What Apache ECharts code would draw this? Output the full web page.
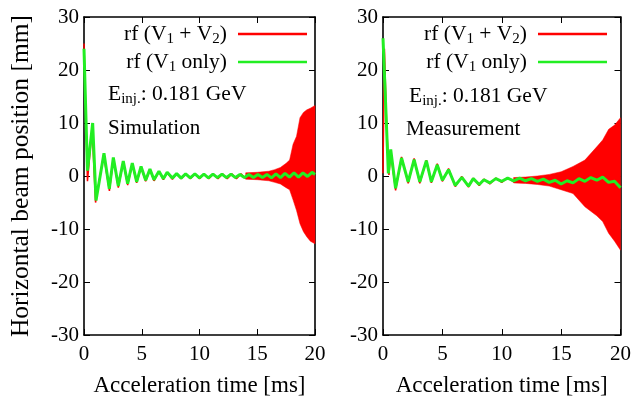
<!DOCTYPE html>
<html><head><meta charset="utf-8">
<script src="https://cdn.jsdelivr.net/npm/echarts@6/dist/echarts.min.js"></script>
<style>html,body{margin:0;padding:0;background:#fff}#c{width:634px;height:404px}</style>
</head><body><div id="c"></div>
<script>
// ---- tick values ----
const xTicks = [0, 5, 10, 15, 20];
const yTicks = [-30, -20, -10, 0, 10, 20, 30];
const panelTitles = ['Simulation', 'Measurement'];
const seriesNames = ['rf (V1 + V2)', 'rf (V1 only)'];

// ---- Simulation panel ----
// green: rf (V1 only), peaks/troughs
const simGreenT = [0, 0.3, 0.75, 1.04, 1.73, 2.19, 2.54, 2.97, 3.4, 3.78, 4.18, 4.56, 4.94, 5.34, 5.71, 6.06, 6.49, 6.87, 7.2, 7.65, 8.02, 8.41, 8.8, 9.2, 9.6, 10.0, 10.38, 10.77, 11.16, 11.55, 11.94, 12.33, 12.72, 13.11, 13.5, 13.89, 14.28, 14.67, 15.06, 15.45, 15.84, 16.23, 16.62, 17.01, 17.4, 17.79, 18.18, 18.57, 18.96, 19.35, 19.74, 20];
const simGreenV = [24, 1.0, 10, -4.6, 4.3, -2.4, 3.5, -1.9, 2.8, -1.45, 2.45, -1.1, 1.8, -0.8, 1.3, -0.7, 0.9, -0.5, 0.7, -0.4, 0.45, -0.4, 0.4, -0.35, 0.4, -0.35, 0.35, -0.35, 0.35, -0.3, 0.35, -0.3, 0.35, -0.3, 0.3, -0.3, 0.3, -0.3, 0.3, -0.3, 0.3, -0.35, 0.4, -0.3, 0.5, -0.2, 0.6, -0.2, 0.6, -0.1, 0.7, 0.3];
// red: rf (V1 + V2), early oscillation
const simRedT = [0, 0.3, 0.7, 1.0, 1.7, 2.2, 2.55, 2.97, 3.4, 3.78, 4.18, 4.56, 4.94, 5.34, 5.71, 6.06, 6.49, 6.87, 7.2, 7.65, 8.02, 8.41, 8.8, 9.2, 9.6, 10.0, 10.4, 10.8, 11.2, 11.6, 12.0, 12.4, 12.8, 13.2, 13.6, 14.0];
const simRedV = [25, -1.0, 9, -5.0, 4.0, -2.8, 3.3, -2.2, 2.6, -1.7, 2.2, -1.3, 1.6, -1.0, 1.2, -0.9, 0.8, -0.7, 0.6, -0.6, 0.4, -0.5, 0.4, -0.5, 0.4, -0.5, 0.4, -0.5, 0.4, -0.5, 0.4, -0.5, 0.4, -0.5, 0.4, -0.5];
// red envelope (dense oscillation near the end)
const simBandT  = [14, 15, 16, 16.5, 17, 17.5, 17.8, 18.1, 18.4, 18.7, 19.0, 19.3, 19.6, 20];
const simBandHi = [0.6, 0.7, 0.9, 1.2, 1.6, 2.4, 3.0, 6.0, 7.5, 11, 12, 12.5, 12.8, 13.3];
const simBandLo = [-0.6, -0.7, -0.9, -1.2, -1.5, -2.2, -2.6, -4.5, -6.5, -9, -10.5, -11.5, -12.3, -12.8];

// ---- Measurement panel ----
const meaGreenT = [0, 0.25, 0.45, 0.65, 1.06, 1.56, 2.12, 2.62, 3.1, 3.65, 4.07, 4.57, 5.0, 5.52, 6.08, 6.64, 7.2, 7.6, 8.1, 8.5, 9.0, 9.5, 10, 10.5, 11, 11.5, 12, 12.5, 13, 13.5, 14, 14.5, 15, 15.5, 16, 16.5, 17, 17.5, 18, 18.5, 19, 19.5, 20];
const meaGreenV = [26, 12, 0.5, 5, -2.3, 3.4, -1.1, 3.1, -1.1, 2.9, -1.1, 2.1, -0.8, 1.2, -1.8, -0.25, -1.9, -0.5, -1.6, -0.7, -1.3, -0.5, -1.0, -0.4, -0.9, -0.4, -0.9, -0.5, -1.0, -0.6, -1.2, -0.8, -1.5, -0.9, -1.3, -0.5, -1.0, -0.3, -0.8, -0.2, -1.2, -1.0, -2.2];
const meaRedT = [0, 0.12, 0.3, 0.5, 0.65, 1.06, 1.56, 2.12, 2.62, 3.1, 3.65, 4.07, 4.57, 5.0, 5.52, 6.08, 6.64, 7.2, 7.6, 8.1, 8.5, 9.0, 9.5, 10, 10.5, 11, 11.5, 12];
const meaRedV = [0.5, 24, 10, 0.2, 4.5, -2.7, 3.6, -1.4, 3.3, -1.4, 3.0, -1.3, 2.3, -1.0, 1.4, -2.0, -0.1, -2.1, -0.4, -1.8, -0.6, -1.5, -0.4, -1.2, -0.3, -1.1, -0.3, -1.1];
const meaBandT  = [11, 12, 13, 14, 15, 16, 17, 18, 18.5, 19, 19.5, 20];
const meaBandHi = [-0.3, -0.2, 0, 0.3, 0.8, 1.8, 3.0, 5.5, 6.8, 8.8, 9.6, 11];
const meaBandLo = [-1.3, -1.4, -1.6, -1.9, -2.6, -3.3, -5.8, -7.5, -8.6, -10.8, -12.3, -14];

const RED = '#ff0000', GREEN = '#22ee22';
const FONT = '"Liberation Serif", "Times New Roman", Times, serif';
const pairs = (t, v) => t.map((x, i) => [x, v[i]]);

const grids = [
  {left: 84, right: 319, top: 17, bottom: 69},
  {left: 383, right: 12, top: 17, bottom: 69}
];
const xAxes = [], yAxes = [];
grids.forEach((g, i) => {
  const common = {type: 'value', gridIndex: i, splitLine: {show: false},
    axisLine: {show: true, onZero: false, lineStyle: {color: '#000', width: 1.6}},
    axisTick: {show: true, inside: true, length: 6, lineStyle: {color: '#000', width: 1}}};
  xAxes.push(Object.assign({}, common, {min: xTicks[0], max: xTicks[xTicks.length - 1], interval: 5, position: 'bottom',
    axisLabel: {show: true, margin: 9, fontFamily: FONT, fontSize: 21, color: '#000'},
    name: 'Acceleration time [ms]', nameLocation: 'middle', nameGap: 39,
    nameTextStyle: {fontFamily: FONT, fontSize: 23, color: '#000'}}));
  xAxes.push(Object.assign({}, common, {min: xTicks[0], max: xTicks[xTicks.length - 1], interval: 5, position: 'top', axisLabel: {show: false}}));
  const y = Object.assign({}, common, {min: yTicks[0], max: yTicks[yTicks.length - 1], interval: 10, position: 'left',
    axisLabel: {show: true, margin: 5, fontFamily: FONT, fontSize: 21, color: '#000'}});
  if (i === 0) Object.assign(y, {name: 'Horizontal beam position [mm]', nameLocation: 'middle', nameGap: 50,
    nameTextStyle: {fontFamily: FONT, fontSize: 25.5, color: '#000'}});
  yAxes.push(y);
  yAxes.push(Object.assign({}, common, {min: yTicks[0], max: yTicks[yTicks.length - 1], interval: 10, position: 'right', axisLabel: {show: false}}));
});

const panels = [
  {gT: simGreenT, gV: simGreenV, rT: simRedT, rV: simRedV, bT: simBandT, bHi: simBandHi, bLo: simBandLo},
  {gT: meaGreenT, gV: meaGreenV, rT: meaRedT, rV: meaRedV, bT: meaBandT, bHi: meaBandHi, bLo: meaBandLo}
];
const series = [];
panels.forEach((p, i) => {
  const xi = i * 2, yi = i * 2;
  series.push({type: 'line', name: seriesNames[0], xAxisIndex: xi, yAxisIndex: yi, data: pairs(p.rT, p.rV),
    showSymbol: false, lineStyle: {color: RED, width: 1.5}, itemStyle: {color: RED}, z: 2});
  // red envelope band: one polygon through lower edge then upper edge, via the axis scales
  series.push({type: 'custom', name: seriesNames[0], xAxisIndex: xi, yAxisIndex: yi,
    data: p.bT.map((t, k) => [t, p.bLo[k], p.bHi[k]]),
    encode: {x: 0, y: [1, 2]}, itemStyle: {color: RED}, z: 2,
    renderItem: function (params, api) {
      if (params.dataIndex !== 0) return null;
      const lo = p.bT.map((t, k) => api.coord([t, p.bLo[k]]));
      const hi = p.bT.map((t, k) => api.coord([t, p.bHi[k]])).reverse();
      return {type: 'polygon', shape: {points: lo.concat(hi)},
        style: {fill: RED, stroke: RED, lineWidth: 0.5}};
    }});
  series.push({type: 'line', name: seriesNames[1], xAxisIndex: xi, yAxisIndex: yi, data: pairs(p.gT, p.gV),
    showSymbol: false, lineStyle: {color: GREEN, width: 3}, itemStyle: {color: GREEN}, z: 3});
});

const legendRich = {
  n: {fontFamily: FONT, fontSize: 21.5, color: '#000', lineHeight: 26},
  s: {fontFamily: FONT, fontSize: 15, color: '#000', lineHeight: 15, verticalAlign: 'bottom'}
};
const legendFmt = (name) => name === seriesNames[0] ? '{n|rf (V}{s|1}{n| + V}{s|2}{n|)}' : '{n|rf (V}{s|1}{n| only)}';
const legends = [322, 22].map(r => ({
  right: r, top: 18, orient: 'vertical', align: 'right', itemWidth: 69, itemHeight: 2.5, itemGap: 4,
  formatter: legendFmt, textStyle: {rich: legendRich, padding: [0, 6, 0, 0]},
  selectedMode: false,
  data: [{name: seriesNames[0], icon: 'rect', itemStyle: {color: RED}},
         {name: seriesNames[1], icon: 'rect', itemStyle: {color: GREEN}}]
}));

const annRich = {
  n: {fontFamily: FONT, fontSize: 21.5, color: '#000', lineHeight: 26},
  s: {fontFamily: FONT, fontSize: 15, color: '#000', lineHeight: 15, verticalAlign: 'bottom'}
};
const TFONT = '21px "Liberation Serif", "Times New Roman", serif';
const graphic = [
  {type: 'text', left: 108, top: 83, style: {text: '{n|E}{s|inj.}{n|: 0.181 GeV}', rich: annRich}},
  {type: 'text', left: 108, top: 118, style: {text: panelTitles[0], font: TFONT, fill: '#000'}},
  {type: 'text', left: 409, top: 85, style: {text: '{n|E}{s|inj.}{n|: 0.181 GeV}', rich: annRich}},
  {type: 'text', left: 406, top: 119, style: {text: panelTitles[1], font: TFONT, fill: '#000'}}
];

const chart = echarts.init(document.getElementById('c'), null, {renderer: 'canvas'});
chart.setOption({
  animation: false, backgroundColor: '#fff',
  grid: grids, xAxis: xAxes, yAxis: yAxes, series: series, legend: legends, graphic: graphic
});
</script></body></html>
